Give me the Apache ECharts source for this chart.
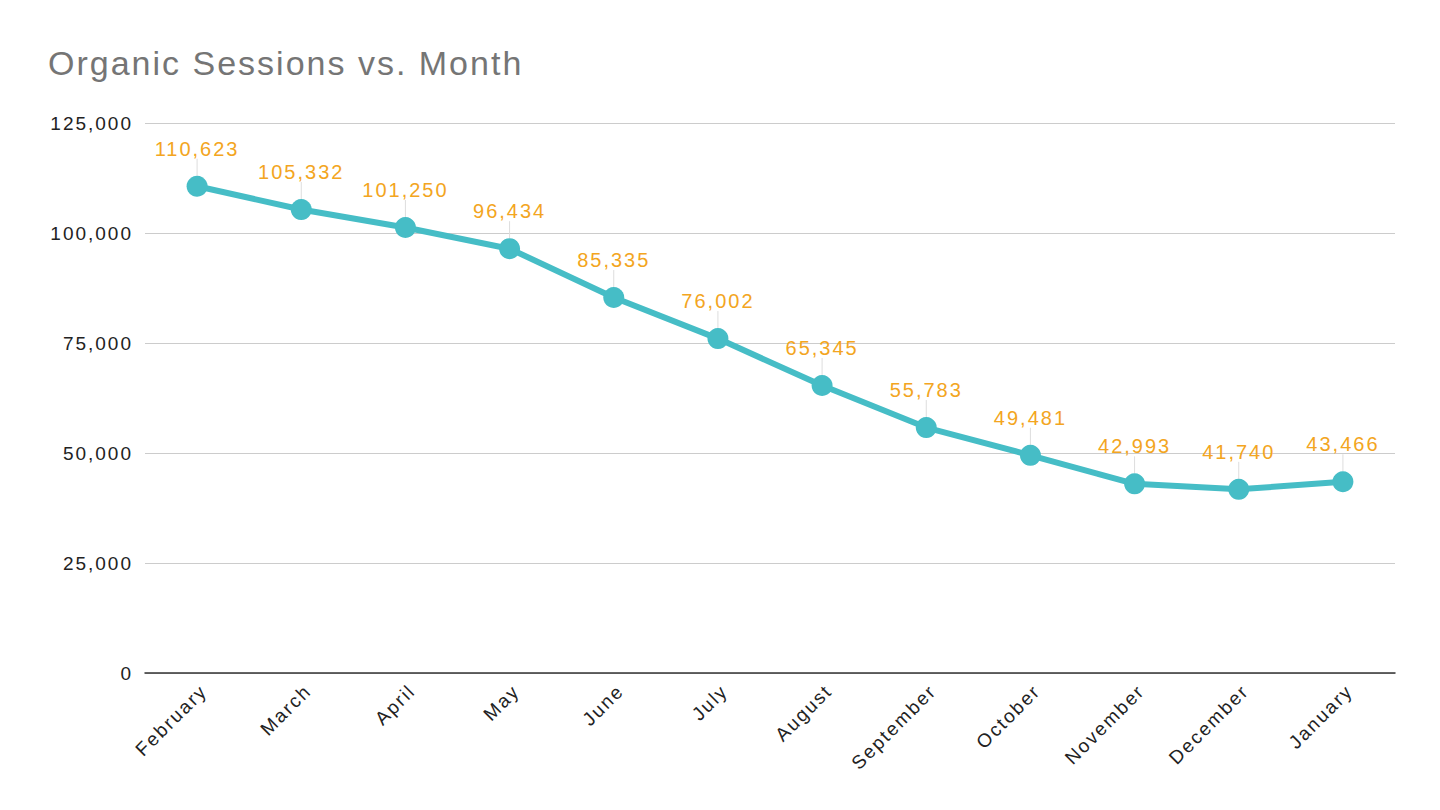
<!DOCTYPE html>
<html><head><meta charset="utf-8">
<script src="https://cdn.jsdelivr.net/npm/echarts@6/dist/echarts.min.js"></script>
<style>html,body{margin:0;padding:0;background:#fff}#c{width:1440px;height:810px}#c text{letter-spacing:2px}</style>
</head><body><div id="c"></div>
<script>
const months = ['February','March','April','May','June','July','August','September','October','November','December','January'];
const sessions = [110623,105332,101250,96434,85335,76002,65345,55783,49481,42993,41740,43466];
const yTicks = [0,25000,50000,75000,100000,125000];

const fmt = v => v.toLocaleString('en-US');
const FF = "'Liberation Sans', Arial, sans-serif";
const chart = echarts.init(document.getElementById('c'), null, {renderer:'svg'});
chart.setOption({
  backgroundColor:'#fff',
  title:{text:'Organic Sessions vs. Month',left:43,top:41,textStyle:{fontFamily:FF,fontSize:34,fontWeight:'normal',color:'#757575'}},
  grid:{left:145,right:45,top:123,bottom:137},
  xAxis:{type:'category',data:months,boundaryGap:true,
    axisLine:{lineStyle:{color:'#333',width:1.5}},axisTick:{show:false},
    axisLabel:{rotate:45,color:'#222',fontSize:19,fontFamily:FF,margin:8,align:'right',verticalAlign:'top'}},
  yAxis:{type:'value',min:yTicks[0],max:yTicks[yTicks.length-1],interval:25000,
    axisLine:{show:false},axisTick:{show:false},
    splitLine:{lineStyle:{color:'#cccccc',width:1}},
    axisLabel:{color:'#222',fontSize:19,fontFamily:FF,margin:12,formatter:fmt}},
  series:[{type:'line',data:sessions,
    lineStyle:{color:'#46bdc6',width:6},
    itemStyle:{color:'#46bdc6'},symbol:'circle',symbolSize:21,
    label:{show:true,position:'top',distance:6,color:'#f3a521',fontSize:20,fontFamily:FF,formatter:p=>fmt(p.value)},
    labelLayout:{dy:-11},
    labelLine:{show:true,lineStyle:{color:'#dddddd',width:1}}
  }]
});
</script></body></html>
